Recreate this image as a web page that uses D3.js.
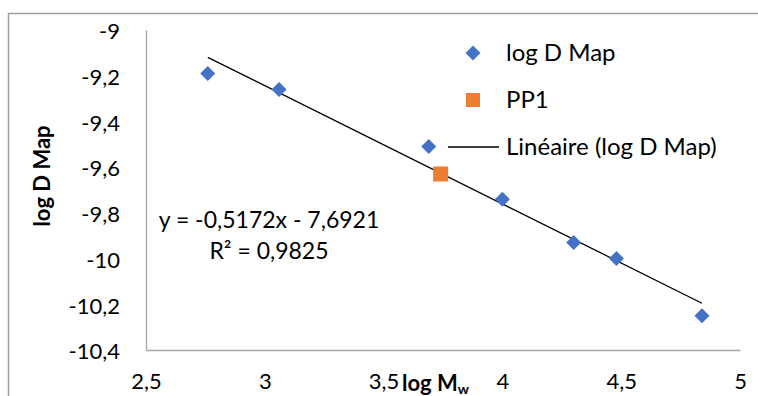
<!DOCTYPE html>
<html><head><meta charset="utf-8">
<script src="https://cdn.jsdelivr.net/npm/d3@7"></script>
<style>
html,body{margin:0;padding:0;background:#fff;}
text{font-family:Lato, "Open Sans", sans-serif;fill:#000;}
</style></head>
<body><svg id="c" width="758" height="396"></svg>
<script>
// ---- data ----
const logMw = [2.76, 3.06, 3.69, 4.00, 4.30, 4.48, 4.84];
const logDMap = [-9.19, -9.26, -9.51, -9.74, -9.93, -10.00, -10.25];
const pp1X = [3.74];
const pp1Y = [-9.63];
const slope = -0.5172, intercept = -7.6921;
const xTicks = [2.5, 3, 3.5, 4, 4.5, 5];
const yTicks = [-9, -9.2, -9.4, -9.6, -9.8, -10, -10.2, -10.4];
const seriesNames = ["log D Map", "PP1", "Linéaire (log D Map)"];
const eqLines = ["y = -0,5172x - 7,6921", "R² = 0,9825"];

const svg = d3.select("#c");
const W = 758, H = 396;
const m = {l:146, t:30, r:740, b:350};
const x = d3.scaleLinear().domain([2.5,5]).range([m.l, m.r]);
const y = d3.scaleLinear().domain([-10.4,-9]).range([m.b, m.t]);
const fmt = d => String(d).replace(".", ",");
const blue = "#4472C4", orange = "#ED7D31", axisCol = "#a6a6a6";

svg.append("rect").attr("width", W).attr("height", H).attr("fill", "#fff");
svg.append("rect").attr("x", 8.5).attr("y", 13.5).attr("width", W+20).attr("height", H+20)
  .attr("fill", "none").attr("stroke", "#a0a0a0").attr("stroke-width", 1.5);

// axes
const yAx = svg.append("g").attr("transform", `translate(${m.l},0)`)
  .call(d3.axisLeft(y).tickValues(yTicks).tickFormat(fmt).tickSize(0).tickPadding(26));
const xAx = svg.append("g").attr("transform", `translate(0,${m.b})`)
  .call(d3.axisBottom(x).tickValues(xTicks).tickFormat(fmt).tickSize(0).tickPadding(26));
[yAx, xAx].forEach(g => {
  g.select(".domain").attr("stroke", axisCol).attr("stroke-width", 1.3);
  g.selectAll("text").style("font-size", "22px").style("font-family", "Lato, sans-serif").attr("fill", "#000");
});
yAx.selectAll("text").attr("dy", "0.4em");
xAx.selectAll("text").attr("dy", "0.6em");

// axis titles
svg.append("text").attr("transform", "translate(50,176) rotate(-90)")
  .attr("text-anchor", "middle").style("font-size", "22px").style("font-weight", "bold").text("log D Map");
const xt = svg.append("text").attr("x", 402).attr("y", 391)
  .style("font-size", "22px").style("font-weight", "bold");
xt.append("tspan").text("log M");
xt.append("tspan").attr("dy", 3).style("font-size", "14px").text("w");

// trendline
const xmin = d3.min(logMw), xmax = d3.max(logMw);
svg.append("line")
  .attr("x1", x(xmin)).attr("y1", y(slope*xmin + intercept))
  .attr("x2", x(xmax)).attr("y2", y(slope*xmax + intercept))
  .attr("stroke", "#000").attr("stroke-width", 1.3);

// diamonds
const diamond = "M0,-7.5L7.5,0L0,7.5L-7.5,0Z";
svg.append("g").selectAll("path").data(logMw.map((v,i)=>[v, logDMap[i]])).join("path")
  .attr("d", diamond).attr("transform", d => `translate(${x(d[0])},${y(d[1])})`).attr("fill", blue);
// PP1
svg.append("g").selectAll("rect").data(pp1X.map((v,i)=>[v, pp1Y[i]])).join("rect")
  .attr("x", d => x(d[0]) - 7.5).attr("y", d => y(d[1]) - 7.5).attr("width", 15).attr("height", 15)
  .attr("fill", orange);

// legend
const lg = svg.append("g");
lg.append("path").attr("d", diamond).attr("transform", "translate(473,53)").attr("fill", blue);
lg.append("rect").attr("x", 466).attr("y", 93).attr("width", 14).attr("height", 14).attr("fill", orange);
lg.append("line").attr("x1", 448).attr("x2", 499).attr("y1", 147).attr("y2", 147).attr("stroke", "#000").attr("stroke-width", 1.3);
[53, 100, 147].forEach((yy, i) => {
  lg.append("text").attr("x", 506).attr("y", yy).attr("dy", "0.35em")
    .style("font-size", "24px").text(seriesNames[i]);
});

// equation
svg.append("text").attr("x", 269).attr("y", 228).attr("text-anchor", "middle").style("font-size", "23px").text(eqLines[0]);
svg.append("text").attr("x", 269).attr("y", 259).attr("text-anchor", "middle").style("font-size", "23px").text(eqLines[1]);
</script></body></html>
